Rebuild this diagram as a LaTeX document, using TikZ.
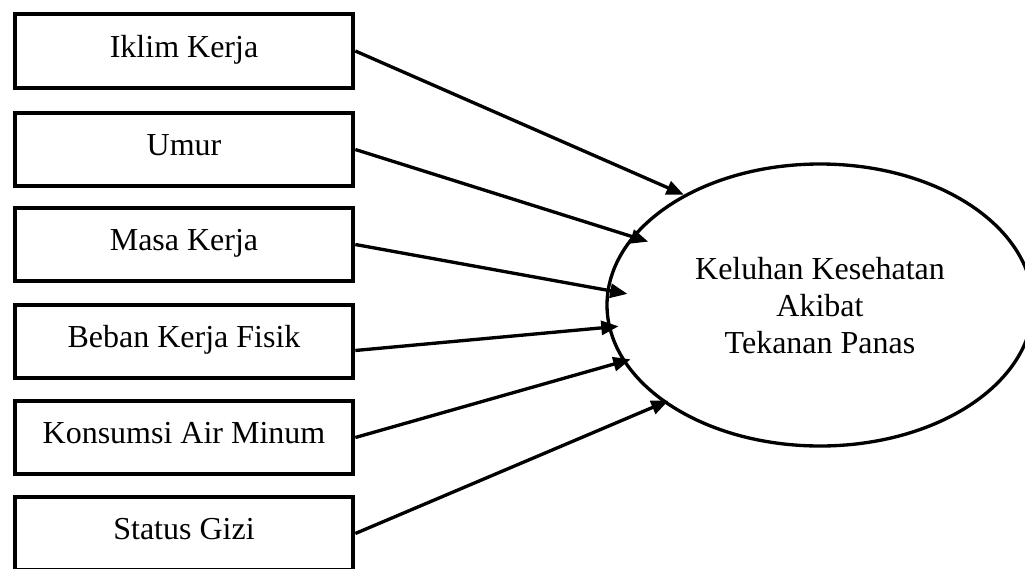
\documentclass[tikz,border=0pt]{standalone}
\usepackage{fontspec}
\setmainfont{Liberation Serif}
\usetikzlibrary{arrows.meta, shapes.geometric}

\tikzset{
  factor/.style={draw, rectangle, line width=3pt, minimum width=254pt, minimum height=55pt,
    inner sep=0pt, text height=16pt, text depth=7pt, font=\fontsize{24}{27.75}\selectfont},
  outcome/.style={draw, ellipse, line width=2.5pt, minimum width=319.5pt, minimum height=211.5pt,
    inner sep=0pt, align=center, text depth=-16pt, font=\fontsize{24}{27.75}\selectfont},
  link/.style={line width=2.5pt, -{Triangle[length=13pt, width=10.5pt]}}
}

\begin{document}
\begin{tikzpicture}[x=0.75pt, y=-0.75pt]
  \useasboundingbox (0,0) rectangle (1025,568);

  % factors on the left
  \node[factor] (iklim)    at (184,51)    {Iklim Kerja};
  \node[factor] (umur)     at (184,149.5) {Umur};
  \node[factor] (masa)     at (184,244.5) {Masa Kerja};
  \node[factor] (beban)    at (184,341.5) {Beban Kerja Fisik};
  \node[factor] (konsumsi) at (184,437.5) {Konsumsi Air Minum};
  \node[factor] (gizi)     at (184,533.5) {Status Gizi};

  % outcome
  \node[outcome] (keluhan) at (820,305) {Keluhan Kesehatan\\Akibat\\Tekanan Panas};

  % arrows into the ellipse
  \draw[link] (iklim.east) -- (keluhan.141);
  \draw[link, shorten >=-13pt] (umur.east) -- (keluhan.160);% tip pokes in
  \draw[link, shorten >=-16pt] (masa.east) -- (keluhan.176);
  \draw[link, shorten >=-8pt] (beban.-3) -- (keluhan.186);
  \draw[link, shorten >=-6pt] (konsumsi.east) -- (keluhan.196);
  \draw[link, shorten >=-4pt] (gizi.east) -- (keluhan.212);
\end{tikzpicture}
\end{document}
